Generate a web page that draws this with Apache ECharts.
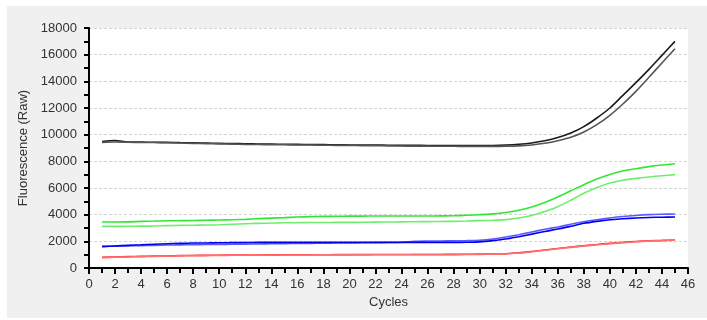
<!DOCTYPE html>
<html>
<head>
<meta charset="utf-8">
<script src="https://cdn.jsdelivr.net/npm/echarts@6/dist/echarts.min.js"></script>
<style>
  html, body { margin: 0; padding: 0; background: #ffffff; }
  #chart { position: absolute; left: 7px; top: 6px; width: 700px; height: 312px; }
</style>
</head>
<body>
<div id="chart"></div>
<script>
// Amplification curves: raw fluorescence per cycle (cycles 1..45)
const cycles = Array.from({ length: 45 }, (_, i) => i + 1);

const black1 = [9480, 9560, 9450, 9440, 9430, 9420, 9400, 9390, 9370, 9350,
                9330, 9320, 9300, 9290, 9280, 9270, 9260, 9250, 9240, 9230,
                9220, 9220, 9210, 9200, 9200, 9190, 9180, 9180, 9180, 9180,
                9190, 9220, 9280, 9380, 9540, 9780, 10120, 10600, 11250, 12000,
                12950, 13900, 14900, 15950, 17000];
const black2 = [9420, 9450, 9430, 9420, 9410, 9390, 9370, 9350, 9330, 9310,
                9290, 9270, 9260, 9250, 9240, 9230, 9220, 9210, 9200, 9190,
                9180, 9170, 9160, 9150, 9140, 9140, 9130, 9130, 9120, 9120,
                9120, 9130, 9160, 9230, 9350, 9540, 9800, 10200, 10750, 11450,
                12300, 13250, 14300, 15380, 16450];
const green1 = [3450, 3450, 3460, 3500, 3520, 3540, 3550, 3560, 3580, 3600,
                3620, 3650, 3700, 3740, 3780, 3820, 3850, 3870, 3880, 3890,
                3890, 3900, 3900, 3900, 3900, 3900, 3910, 3920, 3960, 4000,
                4060, 4160, 4330, 4580, 4920, 5330, 5790, 6250, 6670, 7010,
                7270, 7450, 7600, 7720, 7820];
const green2 = [3120, 3120, 3130, 3140, 3150, 3180, 3200, 3210, 3220, 3240,
                3280, 3320, 3350, 3370, 3390, 3400, 3410, 3410, 3420, 3420,
                3430, 3440, 3450, 3460, 3470, 3480, 3490, 3500, 3520, 3550,
                3580, 3630, 3750, 3940, 4230, 4600, 5080, 5600, 6030, 6370,
                6580, 6720, 6830, 6920, 7000];
const blue1 = [1620, 1640, 1660, 1680, 1700, 1720, 1735, 1750, 1760, 1770,
               1780, 1790, 1800, 1815, 1830, 1840, 1850, 1860, 1870, 1880,
               1890, 1900, 1910, 1930, 2000, 2020, 2030, 2040, 2050, 2080,
               2170, 2320, 2500, 2700, 2900, 3080, 3280, 3470, 3620, 3750,
               3860, 3940, 4000, 4030, 4050];
const blue2 = [1600, 1650, 1700, 1740, 1780, 1820, 1850, 1870, 1880, 1890,
               1900, 1910, 1920, 1920, 1920, 1920, 1920, 1920, 1920, 1920,
               1920, 1920, 1920, 1920, 1920, 1920, 1920, 1920, 1930, 1960,
               2050, 2170, 2350, 2540, 2740, 2920, 3130, 3350, 3500, 3620,
               3690, 3750, 3790, 3810, 3830];
const red1 = [800, 830, 850, 870, 890, 910, 930, 940, 950, 960,
              970, 975, 980, 985, 990, 992, 995, 998, 1000, 1000,
              1005, 1008, 1010, 1012, 1014, 1016, 1018, 1020, 1030, 1040,
              1050, 1070, 1140, 1240, 1350, 1460, 1570, 1670, 1760, 1850,
              1920, 1990, 2040, 2070, 2100];
const red2 = [780, 810, 830, 850, 870, 890, 910, 925, 935, 945,
              955, 960, 965, 970, 975, 978, 980, 983, 985, 988,
              990, 992, 995, 998, 1000, 1002, 1004, 1006, 1015, 1025,
              1035, 1055, 1120, 1220, 1330, 1440, 1550, 1650, 1740, 1830,
              1900, 1970, 2020, 2050, 2080];

const xTicks = { min: 0, max: 46, step: 2 };
const yTicks = { min: 0, max: 18000, step: 2000 };

const traces = [
  { name: 'A1', values: black1, color: '#1a1a1a' },
  { name: 'A2', values: black2, color: '#555555' },
  { name: 'B1', values: green1, color: '#33e633' },
  { name: 'B2', values: green2, color: '#6cef6c' },
  { name: 'C1', values: blue1, color: '#5a5aff' },
  { name: 'C2', values: blue2, color: '#0000ee' },
  { name: 'D1', values: red1, color: '#ff2020' },
  { name: 'D2', values: red2, color: '#ff7070' }
];

const fontFamily = '"Liberation Sans", Arial, sans-serif';
const chart = echarts.init(document.getElementById('chart'));

chart.setOption({
  backgroundColor: '#f0f0f0',
  animation: false,
  grid: {
    left: 82, right: 19, top: 22, bottom: 50,
    show: true, backgroundColor: '#ffffff', borderWidth: 0
  },
  xAxis: {
    type: 'value',
    min: xTicks.min, max: xTicks.max, interval: xTicks.step,
    name: 'Cycles', nameLocation: 'middle', nameGap: 28,
    nameTextStyle: { fontFamily, fontSize: 13, color: '#333' },
    axisLine: { onZero: false, lineStyle: { color: '#000', width: 2 } },
    axisTick: { show: true, length: 6, lineStyle: { color: '#000', width: 2 } },
    minorTick: { show: true, splitNumber: 2, length: 5, lineStyle: { color: '#000', width: 2 } },
    axisLabel: { fontFamily, fontSize: 13, color: '#333', margin: 10, formatter: v => String(v) },
    splitLine: { show: false }
  },
  yAxis: {
    type: 'value',
    min: yTicks.min, max: yTicks.max, interval: yTicks.step,
    name: 'Fluorescence (Raw)', nameLocation: 'middle', nameGap: 40,
    nameTextStyle: { fontFamily, fontSize: 13, color: '#333' },
    axisLine: { show: true, lineStyle: { color: '#000', width: 2 } },
    axisTick: { show: true, length: 5, lineStyle: { color: '#000', width: 2 } },
    minorTick: { show: true, splitNumber: 2, length: 5, lineStyle: { color: '#000', width: 2 } },
    axisLabel: { fontFamily, fontSize: 13, color: '#333', margin: 12, formatter: v => String(v) },
    splitLine: { show: true, lineStyle: { color: '#d4d4d4', type: [3, 2], width: 1 } }
  },
  series: traces.map(t => ({
    name: t.name,
    type: 'line',
    data: cycles.map((c, i) => [c, t.values[i]]),
    smooth: 0.3,
    showSymbol: false,
    lineStyle: { color: t.color, width: 1.6 },
    emphasis: { disabled: true }
  }))
});
</script>
</body>
</html>
